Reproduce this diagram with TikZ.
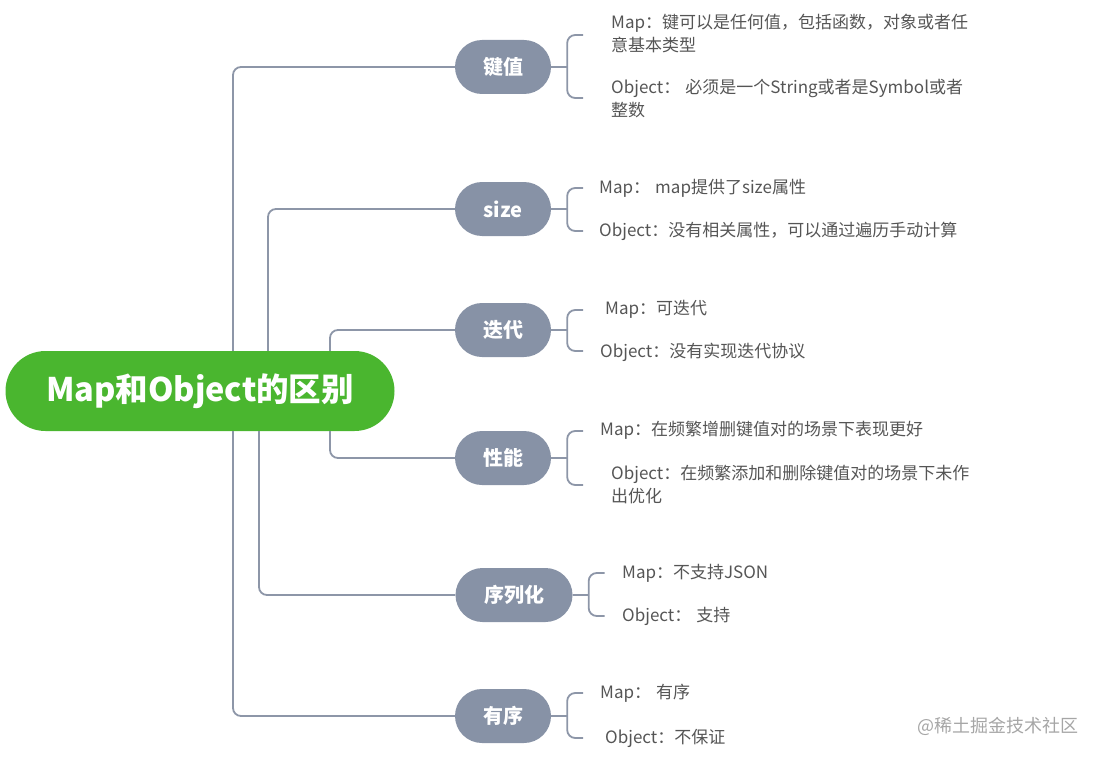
\documentclass[tikz,border=0pt]{standalone}
\usepackage{fontspec}
\setmainfont{Noto Sans CJK SC}
\usetikzlibrary{positioning}

\definecolor{rootgreen}{HTML}{4AB62F}
\definecolor{topicgray}{HTML}{8792A6}
\definecolor{linegray}{HTML}{8D96A8}
\definecolor{notegray}{HTML}{555555}

\begin{document}
\begin{tikzpicture}[x=1pt, y=-1pt,
    root/.style={fill=rootgreen, rounded corners=40pt, minimum width=389pt, minimum height=80pt, inner sep=0pt, text=white, font=\fontsize{32.5}{36}\selectfont\bfseries},
    topic/.style={fill=topicgray, rounded corners=27pt, minimum width=96pt, minimum height=54pt, inner sep=0pt, text=white, font=\fontsize{20}{24}\selectfont\bfseries},
    link/.style={draw=linegray, line width=1.8pt, rounded corners=8pt},
    note/.style={anchor=west, align=left, inner sep=0pt, text=notegray, font=\fontsize{17}{23}\selectfont},
    watermark/.style={anchor=west, inner sep=0pt, text=black!35, font=\fontsize{18}{22}\selectfont}
  ]
  \useasboundingbox (0,0) rectangle (1099,757);

  % centre and topics
  \node[root] (root) at (200,391) {Map和Object的区别};
  \node[topic] (kv) at (503,67) {键值};
  \node[topic] (size) at (503,209) {size};
  \node[topic] (iter) at (503,330) {迭代};
  \node[topic] (perf) at (503,458) {性能};
  \node[topic, minimum width=117pt] (ser) at (514,595) {序列化};
  \node[topic] (ord) at (503,716) {有序};

  % feet of the branches on the centre node
  \coordinate (kvfoot) at (root.north -| 233,0);
  \coordinate (sizefoot) at (root.north -| 268,0);
  \coordinate (iterfoot) at (root.north -| 330,0);
  \coordinate (perffoot) at (root.south -| 330,0);
  \coordinate (serfoot) at (root.south -| 259,0);
  \coordinate (ordfoot) at (root.south -| 233,0);

  \draw[link] (kvfoot) |- (kv);
  \draw[link] (sizefoot) |- (size);
  \draw[link] (iterfoot) |- (iter);
  \draw[link] (perffoot) |- (perf);
  \draw[link] (serfoot) |- (ser);
  \draw[link] (ordfoot) |- (ord);

  % brackets
  \foreach \t/\up/\dn in {kv/32/31, size/21/22, iter/20/21, perf/27/27, ser/22/21, ord/23/22}
    \draw[link] (\t.east) -- ++(16,0) coordinate (\t-b)
      (\t-b) ++(16,-\up) -| (\t-b) |- ++(16,\dn);

  % notes
  \node[note] (kvmap) at (611,33.5) {Map：键可以是任何值，包括函数，对象或者任\\意基本类型};
  \node[note] (kvobj) at (611,99) {Object：\hspace{0.3em}必须是一个String或者是Symbol或者\\整数};
  \node[note] (sizemap) at (599,188) {Map：\hspace{0.3em}map提供了size属性};
  \node[note] (sizeobj) at (599,231) {Object：没有相关属性，可以通过遍历手动计算};
  \node[note] (itermap) at (605,309) {Map：可迭代};
  \node[note] (iterobj) at (600,352) {Object：没有实现迭代协议};
  \node[note] (perfmap) at (600,430) {Map：在频繁增删键值对的场景下表现更好};
  \node[note] (perfobj) at (611,484) {Object：在频繁添加和删除键值对的场景下未作\\出优化};
  \node[note] (sermap) at (622,573) {Map：不支持JSON};
  \node[note] (serobj) at (622,616) {Object：\hspace{0.3em}支持};
  \node[note] (ordmap) at (600,693) {Map：\hspace{0.3em}有序};
  \node[note] (ordobj) at (605,738) {Object：不保证};

  \node[watermark] (credit) at (917,726) {@稀土掘金技术社区};
\end{tikzpicture}
\end{document}
